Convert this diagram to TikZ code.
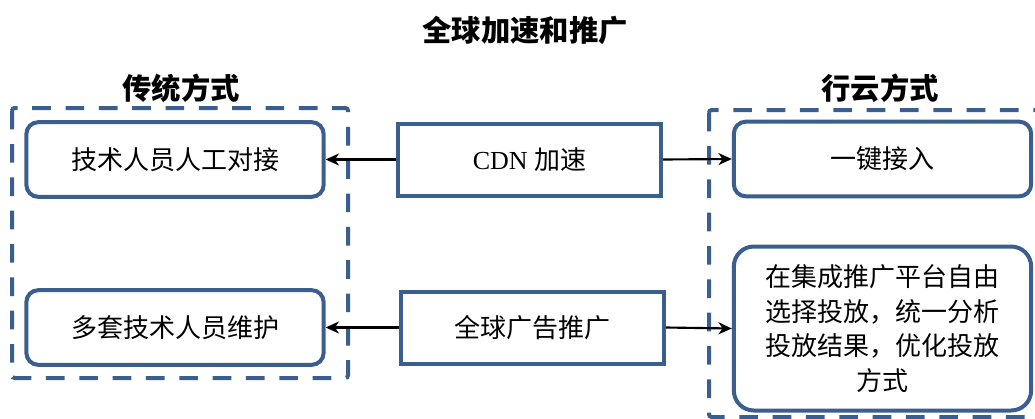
\documentclass[tikz,border=0pt]{standalone}
\usepackage{fontspec}
\setmainfont{Liberation Serif}
\newfontfamily\cjk{Noto Sans CJK SC}
\usepackage{tikz}
\usetikzlibrary{positioning, arrows.meta}
\definecolor{frame}{HTML}{3A5F8E}
\definecolor{ink}{HTML}{000000}
\tikzset{
  side/.style     = {rectangle, rounded corners=9pt, draw=frame, line width=3pt,
                     fill=white, minimum width=223pt, minimum height=56pt,
                     align=center, font=\cjk\fontsize{19.5}{26}\selectfont},
  mid/.style      = {rectangle, draw=frame, line width=3pt, fill=white,
                     minimum width=197pt, minimum height=54pt,
                     align=center, font=\fontsize{19.5}{26}\selectfont},
  group/.style    = {draw=frame, line width=3pt, dash pattern=on 14pt off 11pt},
  heading/.style  = {font=\cjk\bfseries\fontsize{22}{26}\selectfont, inner sep=0pt},
  ar/.style       = {-{Stealth[length=10pt,width=9pt,inset=3pt]}, line width=1.6pt, draw=ink},
}
\begin{document}
\begin{tikzpicture}[x=0.75pt, y=-0.75pt]

  \clip (0,0) rectangle (1035,418);

  % titles
  \node[heading] (title) at (525,30) {全球加速和推广};
  \node[heading] (oldhead) at (181,88) {传统方式};
  \node[heading] (newhead) at (880,88) {行云方式};

  % dashed groups
  \draw[group, rounded corners=2pt] (12,108) rectangle (348,378);
  \draw[group, rounded corners=2pt] (709,110) rectangle (1060,417);

  % left column
  \node[side] (manual) at (175,159.5) {技术人员人工对接};
  \node[side] (staff) at (175,327.5) {多套技术人员维护};

  % middle column
  \node[mid] (cdn) at (529.5,159.5) {CDN {\cjk 加速}};
  \node[mid, font=\cjk\fontsize{19.5}{26}\selectfont] (promo) at (532.5,327.5) {全球广告推广};

  % right column
  \node[side] (onekey) at (882.5,159) {一键接入};
  \node[side, rounded corners=15pt, minimum height=123pt]
       (platform) at (882.5,328.5)
       {在集成推广平台自由\\选择投放，统一分析\\投放结果，优化投放\\方式};

  \draw[ar] (cdn.west) -- (manual.east);
  \draw[ar] (cdn.east) -- (onekey.west);
  \draw[ar] (promo.west) -- (staff.east);
  \draw[ar] (promo.east) -- (platform.west);

\end{tikzpicture}
\end{document}
